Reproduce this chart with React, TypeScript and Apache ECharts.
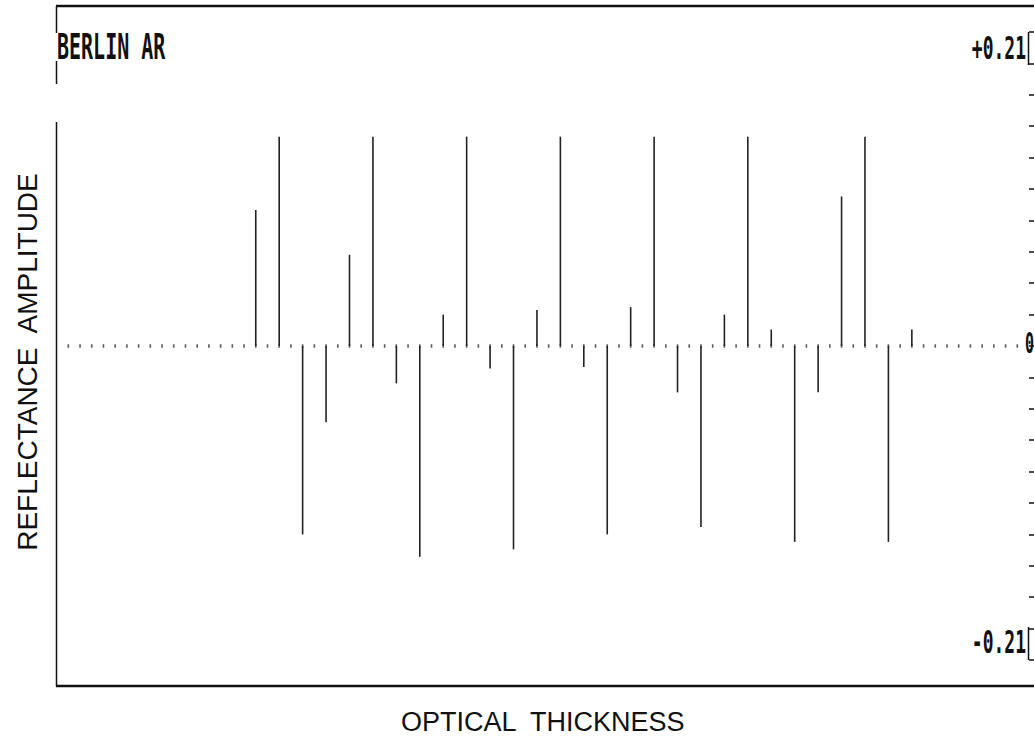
import React, { useEffect, useRef } from "react";
import * as echarts from "echarts";

// Optical-thickness positions (grid units) of each interface
const layerPositions = [17, 19, 21, 23, 25, 27, 29, 31, 33, 35, 37, 39, 41, 43, 45, 47, 49, 51, 53, 55, 57, 59, 61, 63, 65, 67, 69, 71, 73];
// Reflectance amplitude at each interface
const reflectanceValues = [0.091, 0.14, -0.126, -0.051, 0.061, 0.14, -0.025, -0.141, 0.021, 0.14, -0.015, -0.136, 0.024, 0.14, -0.014, -0.126, 0.026, 0.14, -0.031, -0.121, 0.021, 0.14, 0.011, -0.131, -0.031, 0.1, 0.14, -0.131, 0.011];
// Dotted zero-line sample positions
const dotPositions = [1, 2, 3, 4, 5, 6, 7, 8, 9, 10, 11, 12, 13, 14, 15, 16, 17, 18, 19, 20, 21, 22, 23, 24, 25, 26, 27, 28, 29, 30, 31, 32, 33, 34, 35, 36, 37, 38, 39, 40, 41, 42, 43, 44, 45, 46, 47, 48, 49, 50, 51, 52, 53, 54, 55, 56, 57, 58, 59, 60, 61, 62, 63, 64, 65, 66, 67, 68, 69, 70, 71, 72, 73, 74, 75, 76, 77, 78, 79, 80, 81, 82];
const yMin = -0.21;
const yMax = 0.21;
const yInterval = 0.021;
const xMin = 0;
const xMax = 83;
const tickLabels = { top: "+0.21", zero: "0", bottom: "-0.21" };
const chartTitle = "BERLIN AR";
const xTitle = "OPTICAL  THICKNESS";
const yTitle = "REFLECTANCE  AMPLITUDE";

const MONO = "'DejaVu Sans Mono', 'Liberation Mono', monospace";
const SANS = "'Liberation Sans', Arial, sans-serif";

function monoText(text: string, x: number, y: number, align: string, size: number, sy: number) {
  return {
    type: "text",
    x,
    y,
    scaleY: sy,
    style: {
      text,
      fill: "#111",
      fontFamily: MONO,
      fontSize: size,
      fontWeight: "bold",
      align,
      textAlign: align,
      verticalAlign: "middle",
      textVerticalAlign: "middle",
    },
  };
}

function seg(x1: number, y1: number, x2: number, y2: number, w: number) {
  return {
    type: "line",
    shape: { x1, y1, x2, y2 },
    style: { stroke: "#111", lineWidth: w },
  };
}

export default function App() {
  const ref = useRef<HTMLDivElement>(null);
  useEffect(() => {
    if (!ref.current) return;
    const chart = echarts.init(ref.current, undefined, { renderer: "svg" });
    const barData = layerPositions.map((p, i) => [p, reflectanceValues[i]]);
    const dotData = dotPositions.map((p) => [p, 0]);
    chart.setOption({
      animation: false,
      backgroundColor: "#fff",
      grid: { left: 56.6, right: 5, top: 32, bottom: 86, containLabel: false },
      xAxis: {
        type: "value",
        min: xMin,
        max: xMax,
        axisLine: { show: false, onZero: false },
        axisTick: { show: false },
        axisLabel: { show: false },
        splitLine: { show: false },
        name: xTitle,
        nameLocation: "middle",
        nameGap: 48,
        nameTextStyle: { fontFamily: SANS, fontSize: 27, color: "#111", fontWeight: "normal" },
      },
      yAxis: {
        type: "value",
        position: "right",
        min: yMin,
        max: yMax,
        interval: yInterval,
        axisLine: { show: false, onZero: false },
        axisTick: { show: true, inside: false, length: 5, lineStyle: { color: "#111", width: 1.5 } },
        axisLabel: { show: false },
        splitLine: { show: false },
      },
      series: [
        {
          type: "scatter",
          data: dotData,
          symbol: "rect",
          symbolSize: [1.6, 3.5],
          itemStyle: { color: "#333" },
          z: 1,
        },
        {
          type: "bar",
          data: barData,
          barWidth: 1.6,
          itemStyle: { color: "#222" },
          z: 2,
        },
      ],
      graphic: [
        seg(56, 6, 1034, 6, 2.5),
        seg(56, 686, 1034, 686, 2.5),
        seg(56.5, 6, 56.5, 33, 1.5),
        seg(56.5, 61, 56.5, 84, 1.5),
        seg(56.5, 122, 56.5, 686, 1.5),
        seg(1028.5, 32, 1028.5, 65, 1.5),
        seg(1028.5, 627, 1028.5, 660, 1.5),
        monoText(chartTitle, 57, 47, "left", 20, 1.8),
        monoText(tickLabels.top, 1026, 48, "right", 18, 1.75),
        monoText(tickLabels.bottom, 1026, 642, "right", 18, 1.75),
        monoText(tickLabels.zero, 1034, 343, "right", 15, 1.9),
        {
          type: "text",
          x: 27,
          y: 362,
          rotation: Math.PI / 2,
          style: {
            text: yTitle,
            fill: "#111",
            fontFamily: SANS,
            fontSize: 28,
            align: "center",
            textAlign: "center",
            verticalAlign: "middle",
            textVerticalAlign: "middle",
          },
        },
      ],
    });
    return () => chart.dispose();
  }, []);
  return <div ref={ref} style={{ width: 1034, height: 746, position: "absolute", left: 0, top: 0 }} />;
}
